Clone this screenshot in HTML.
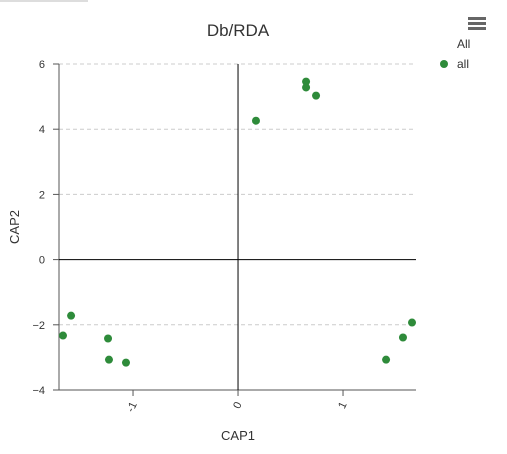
<!DOCTYPE html>
<html><head><meta charset="utf-8"><style>
body{margin:0;background:#fff;font-family:"Liberation Sans","DejaVu Sans",sans-serif;}
svg text{font-family:"Liberation Sans","DejaVu Sans",sans-serif;}
</style></head><body>
<svg id="c" width="507" height="449">
<rect x="0" y="0" width="88" height="2" fill="#ddd"/>
<text x="238" y="36" font-size="17" fill="#333" text-anchor="middle">Db/RDA</text>
<g fill="#666"><rect x="468" y="17" width="18" height="3"/><rect x="468" y="22" width="18" height="3"/><rect x="468" y="27" width="18" height="3"/></g>
<text x="457" y="48" font-size="12" fill="#333">All</text>
<g><circle cx="444" cy="64" r="4" fill="#2e8b3a"/><text x="457" y="68" font-size="12" fill="#333">all</text></g>
<g id="plot"></g>
<text x="238" y="440" font-size="13" fill="#333" text-anchor="middle">CAP1</text>
<text transform="translate(19,227) rotate(-90)" font-size="13" fill="#333" text-anchor="middle">CAP2</text>
</svg>
<script>
const xs=[-1.667,-1.59,-1.238,-1.229,-1.067,0.171,0.648,0.648,0.743,1.41,1.571,1.657];
const ys=[-2.33,-1.72,-2.42,-3.07,-3.16,4.26,5.46,5.28,5.03,-3.07,-2.39,-1.93];
const yTicks=[-4,-2,0,2,4,6];
const xTicks=[-1,0,1];
const X0=59,X1=416,XMIN=-1.705,XMAX=1.695,Y0=390,Y1=64,YMIN=-4,YMAX=6;
const sx=v=>X0+(v-XMIN)/(XMAX-XMIN)*(X1-X0);
const sy=v=>Y0-(v-YMIN)/(YMAX-YMIN)*(Y0-Y1);
const g=document.getElementById('plot');const NS='http://www.w3.org/2000/svg';
function mk(t,a){const e=document.createElementNS(NS,t);for(const k in a)e.setAttribute(k,a[k]);g.appendChild(e);return e;}
yTicks.forEach(v=>{
 if(v!==0&&v!==-4){const l=mk('line',{x1:X0,x2:X1,y1:sy(v),y2:sy(v),stroke:'#ccc','stroke-dasharray':'4,3'});
 
 }
 const tk=mk('line',{x1:X0-6,x2:X0,y1:sy(v),y2:sy(v),stroke:'#555'});
 
 
 const t=mk('text',{x:X0-14,y:sy(v)+4,'font-size':11,fill:'#333','text-anchor':'end'});t.textContent=v<0?'−'+(-v):v;
 
 
});
const ya=mk('line',{x1:X0,x2:X0,y1:Y1,y2:Y0,stroke:'#555'});


const xa=mk('line',{x1:X0,x2:X1,y1:Y0,y2:Y0,stroke:'#555'});


const h0=mk('line',{x1:X0,x2:X1,y1:sy(0),y2:sy(0),stroke:'#000'});


const v0=mk('line',{x1:sx(0),x2:sx(0),y1:Y1,y2:Y0,stroke:'#000'});


xTicks.forEach(v=>{
 const tk=mk('line',{x1:sx(v),x2:sx(v),y1:Y0,y2:Y0+6,stroke:'#555'});
 
 
 const t=mk('text',{transform:`translate(${sx(v)+4},${Y0+14}) rotate(-65)`,'font-size':11,fill:'#333','text-anchor':'end'});t.textContent=v<0?'-'+(-v):v;
 
 
});
xs.forEach((x,i)=>{
 const c=mk('circle',{cx:sx(x),cy:sy(ys[i]),r:4,fill:'#2e8b3a'});
 
 
});
</script>
</body></html>
